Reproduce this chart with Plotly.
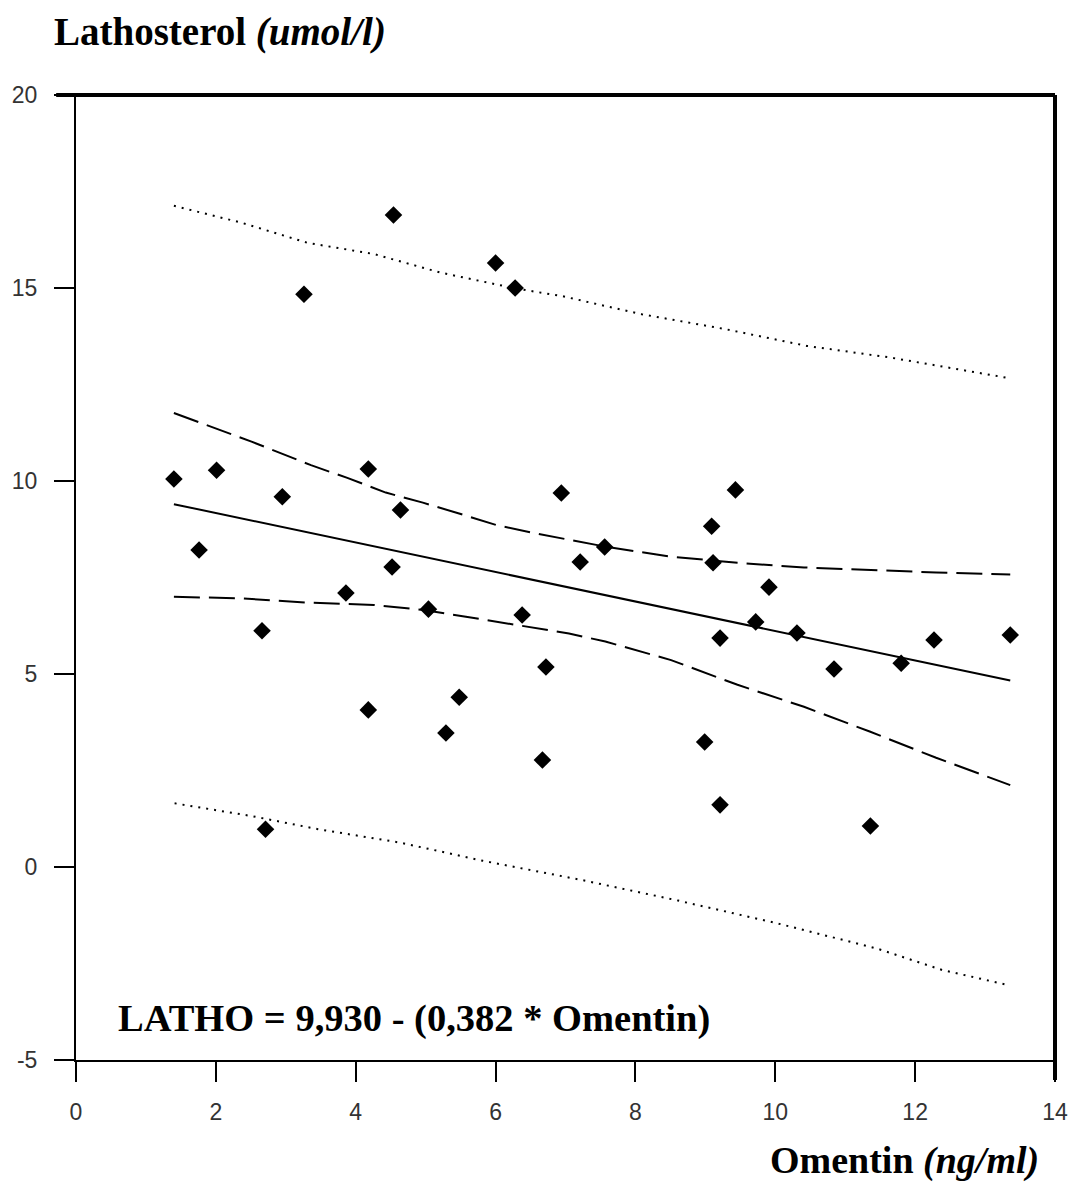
import plotly.graph_objects as go

# ---- data ----
omentin = [1.40, 1.76, 2.01, 2.66, 2.71, 2.95, 3.26, 3.86, 4.18, 4.18, 4.52, 4.54, 4.64,
           5.04, 5.29, 5.48, 6.00, 6.28, 6.38, 6.67, 6.72, 6.94, 7.21, 7.56, 8.99, 9.09,
           9.11, 9.21, 9.21, 9.43, 9.72, 9.91, 10.31, 10.84, 11.36, 11.80, 12.27, 13.36]
latho = [10.05, 8.21, 10.28, 6.12, 0.98, 9.59, 14.84, 7.10, 4.07, 10.31, 7.77, 16.89, 9.25,
         6.68, 3.47, 4.40, 15.65, 15.00, 6.53, 2.77, 5.18, 9.69, 7.90, 8.29, 3.24, 8.83,
         7.88, 5.93, 1.61, 9.77, 6.35, 7.25, 6.06, 5.13, 1.06, 5.28, 5.88, 6.01]

fit_x = [1.40, 13.36]
fit_y = [9.40, 4.83]

ci_up_x = [1.40, 2.51, 3.36, 3.88, 4.43, 4.96, 5.49, 6.01, 6.52, 7.05, 7.57, 8.51, 9.46,
           10.41, 11.35, 12.30, 13.36]
ci_up_y = [11.76, 11.02, 10.41, 10.08, 9.70, 9.44, 9.15, 8.86, 8.66, 8.47, 8.30, 8.04, 7.88,
           7.76, 7.69, 7.63, 7.58]

ci_lo_x = [1.40, 2.37, 3.31, 4.26, 4.97, 5.68, 6.39, 7.05, 7.57, 8.51, 9.46, 10.41, 11.35,
           12.30, 13.36]
ci_lo_y = [7.00, 6.96, 6.85, 6.79, 6.66, 6.45, 6.23, 6.05, 5.84, 5.36, 4.72, 4.15, 3.51,
           2.83, 2.12]

pi_up_x = [1.40, 2.37, 3.31, 4.26, 5.21, 6.28, 6.95, 8.09, 9.27, 10.45, 11.64, 12.82, 13.36]
pi_up_y = [17.13, 16.69, 16.17, 15.88, 15.40, 14.99, 14.79, 14.32, 13.94, 13.50, 13.20,
           12.83, 12.66]

pi_lo_x = [1.41, 2.51, 3.46, 4.64, 5.82, 7.24, 8.61, 10.03, 11.45, 12.39, 13.36]
pi_lo_y = [1.65, 1.32, 0.98, 0.63, 0.16, -0.34, -0.87, -1.46, -2.11, -2.67, -3.07]

x_ticks = [0, 2, 4, 6, 8, 10, 12, 14]
y_ticks = [-5, 0, 5, 10, 15, 20]

title_y = "<b>Lathosterol <i>(umol/l)</i></b>"
title_x = "<b>Omentin <i>(ng/ml)</i></b>"
equation = "<b>LATHO = 9,930 - (0,382 * Omentin)</b>"

# ---- figure ----
W, H = 1080, 1182
ML, MR, MT, MB = 73, 20, 95, 122
PW, PH = W - ML - MR, H - MT - MB


def px(xp):
    return (xp - ML) / PW


def py(yp):
    return (H - MB - yp) / PH


fig = go.Figure()

fig.add_trace(go.Scatter(x=pi_up_x, y=pi_up_y, mode="lines",
                         line=dict(color="black", width=2, dash="2px,6px")))
fig.add_trace(go.Scatter(x=pi_lo_x, y=pi_lo_y, mode="lines",
                         line=dict(color="black", width=2, dash="2px,6px")))
fig.add_trace(go.Scatter(x=ci_up_x, y=ci_up_y, mode="lines",
                         line=dict(color="black", width=2, dash="26px,9px")))
fig.add_trace(go.Scatter(x=ci_lo_x, y=ci_lo_y, mode="lines",
                         line=dict(color="black", width=2, dash="26px,9px")))
fig.add_trace(go.Scatter(x=fit_x, y=fit_y, mode="lines",
                         line=dict(color="black", width=2)))
fig.add_trace(go.Scatter(x=omentin, y=latho, mode="markers",
                         marker=dict(symbol="diamond", size=13.5, color="black",
                                     line=dict(width=0))))

tickfont = dict(family="Liberation Sans, Arial, sans-serif", size=23, color="#333333")

fig.update_layout(
    width=W, height=H,
    margin=dict(l=ML, r=MR, t=MT, b=MB, pad=0),
    paper_bgcolor="white", plot_bgcolor="white",
    showlegend=False,
    xaxis=dict(range=[0, 14], tickvals=x_ticks, ticktext=[str(v) for v in x_ticks],
               showgrid=False, zeroline=False, showline=True, linecolor="black",
               linewidth=2, ticks="outside", ticklen=20, tickwidth=2, tickcolor="black",
               tickfont=tickfont, ticklabelstandoff=10),
    yaxis=dict(range=[-5, 20], tickvals=y_ticks, ticktext=[str(v) for v in y_ticks],
               showgrid=False, zeroline=False, showline=True, linecolor="black",
               linewidth=2, ticks="outside", ticklen=20, tickwidth=2, tickcolor="black",
               tickfont=tickfont, ticklabelstandoff=12),
    shapes=[
        dict(type="line", xref="paper", yref="paper", x0=px(53), x1=1, y0=1, y1=1,
             line=dict(color="black", width=4)),
        dict(type="line", xref="paper", yref="paper", x0=1, x1=1, y0=py(1080), y1=1,
             line=dict(color="black", width=4)),
    ],
    annotations=[
        dict(text=title_y, xref="paper", yref="paper", x=px(49), y=py(32),
             xanchor="left", yanchor="middle", showarrow=False,
             font=dict(family="Liberation Serif, Times New Roman, serif", size=39,
                       color="black")),
        dict(text=title_x, xref="paper", yref="paper", x=px(1046), y=py(1160),
             xanchor="right", yanchor="middle", showarrow=False,
             font=dict(family="Liberation Serif, Times New Roman, serif", size=38,
                       color="black")),
        dict(text=equation, xref="paper", yref="paper", x=px(113), y=py(1018),
             xanchor="left", yanchor="middle", showarrow=False,
             font=dict(family="Liberation Serif, Times New Roman, serif", size=38.5,
                       color="black")),
    ],
)

fig.write_html("out.html")
